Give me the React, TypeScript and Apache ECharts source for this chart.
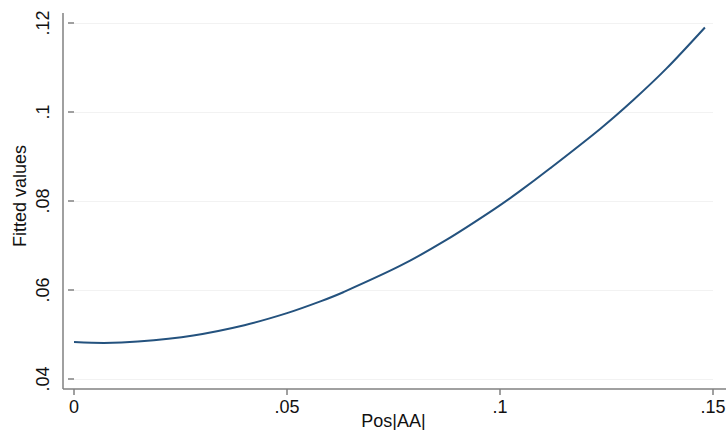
import React, { useEffect, useRef } from "react";
import * as echarts from "echarts";

// Values
const xValues = [0, 0.007, 0.015, 0.028, 0.04, 0.05, 0.058, 0.0632, 0.0765, 0.0875, 0.0984, 0.1045, 0.1117, 0.1235, 0.1313, 0.1391, 0.1481];
const fittedValues = [0.0483, 0.0481, 0.0484, 0.0498, 0.0521, 0.0548, 0.0575, 0.0595, 0.0654, 0.0713, 0.078, 0.0821, 0.0873, 0.0962, 0.1027, 0.1098, 0.119];
const xTitle = "Pos|AA|";
const yTitle = "Fitted values";

const fmt = (v: number) => {
  const s = String(Math.round(v * 10000) / 10000);
  return s.startsWith("0.") ? s.slice(1) : s;
};

export default function App() {
  const ref = useRef<HTMLDivElement>(null);
  useEffect(() => {
    const chart = echarts.init(ref.current!, null, { renderer: "svg" });
    const font = "Liberation Sans, Arial, sans-serif";
    const gray = "#808080";
    chart.setOption({
      animation: false,
      backgroundColor: "#ffffff",
      grid: { left: 74, right: 15, top: 23, bottom: 51, containLabel: false, outerBoundsMode: "none" },
      xAxis: {
        type: "value",
        min: 0,
        max: 0.15,
        interval: 0.05,
        offset: 10,
        name: xTitle,
        nameLocation: "middle",
        nameGap: 23,
        nameMoveOverlap: false,
        nameTextStyle: { fontFamily: font, fontSize: 18, color: "#111" },
        axisLine: { show: false },
        axisTick: { show: true, length: 6, lineStyle: { color: gray, width: 1.5 } },
        axisLabel: { formatter: fmt, fontFamily: font, fontSize: 18, color: "#111", margin: 9 },
        splitLine: { show: false },
      },
      yAxis: {
        type: "value",
        min: 0.04,
        max: 0.12,
        interval: 0.02,
        offset: 11,
        name: yTitle,
        nameLocation: "middle",
        nameGap: 34,
        nameMoveOverlap: false,
        nameTextStyle: { fontFamily: font, fontSize: 18, color: "#111", padding: [0, 0, 0, 10] },
        axisLine: { show: false },
        axisTick: { show: true, length: 6, lineStyle: { color: gray, width: 1.5 } },
        axisLabel: { formatter: fmt, rotate: 90, fontFamily: font, fontSize: 18, color: "#111", margin: 11 },
        splitLine: { show: true, lineStyle: { color: "#f2f2f2", width: 1 } },
      },
      graphic: [
        { type: "line", shape: { x1: 63, y1: 13, x2: 63, y2: 389 }, style: { stroke: gray, lineWidth: 1.5 }, silent: true },
        { type: "line", shape: { x1: 63, y1: 389, x2: 726, y2: 389 }, style: { stroke: gray, lineWidth: 1.5 }, silent: true },
      ],
      series: [
        {
          type: "line",
          data: xValues.map((x, i) => [x, fittedValues[i]]),
          smooth: 0.3,
          showSymbol: false,
          lineStyle: { color: "#24527e", width: 2 },
        },
      ],
    });
    return () => chart.dispose();
  }, []);
  return (
    <div
      ref={ref}
      style={{ position: "fixed", left: 0, top: 0, width: 728, height: 430, background: "#fff" }}
    />
  );
}
